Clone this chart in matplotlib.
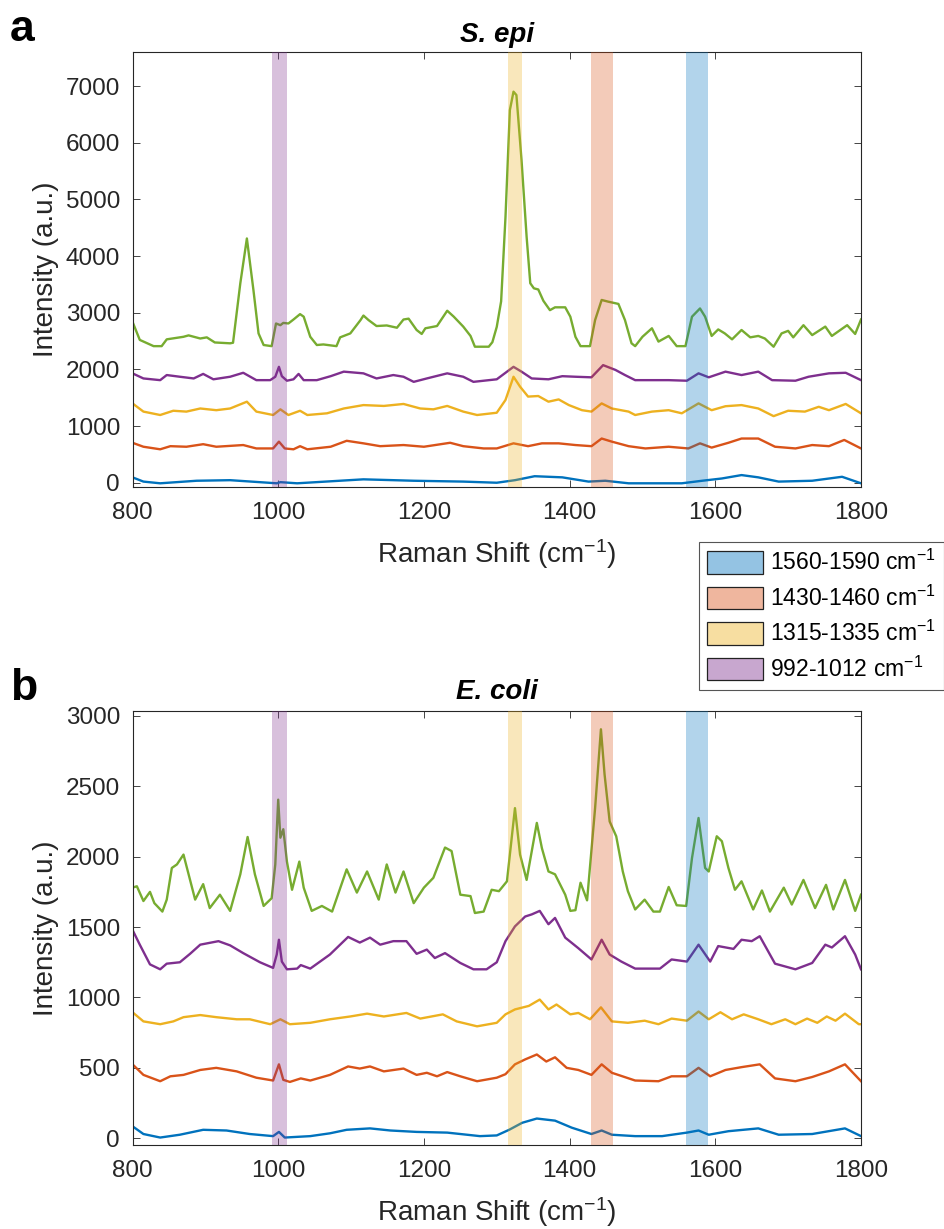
import matplotlib
matplotlib.use("Agg")
import matplotlib.pyplot as plt
from matplotlib.patches import Patch
from matplotlib.colors import to_rgb

plt.rcParams['font.family'] = ['Liberation Sans', 'DejaVu Sans']
plt.rcParams['mathtext.fontset'] = 'custom'
plt.rcParams['mathtext.rm'] = 'Liberation Sans'
plt.rcParams['mathtext.it'] = 'Liberation Sans:italic'
plt.rcParams['mathtext.bf'] = 'Liberation Sans:bold'

# ---------------- data: panel a (S. epi) ----------------
xa_green = [800, 810, 829, 840, 847, 870, 877, 893, 902, 913, 934, 938, 948, 957, 966, 973, 980, 991, 997, 1003,
            1007, 1014, 1021, 1030, 1035, 1044, 1053, 1062, 1080, 1085, 1099, 1113, 1117, 1124, 1135, 1149, 1163, 1172,
            1179, 1190, 1197, 1202, 1218, 1232, 1241, 1254, 1264, 1270, 1289, 1294, 1300, 1306, 1312, 1318, 1323, 1327,
            1334, 1341, 1346, 1351, 1357, 1364, 1373, 1380, 1394, 1401, 1408, 1415, 1428, 1435, 1444, 1453, 1467, 1476,
            1485, 1490, 1500, 1513, 1522, 1536, 1547, 1559, 1568, 1579, 1586, 1595, 1604, 1613, 1623, 1636, 1648, 1659,
            1668, 1680, 1691, 1700, 1707, 1721, 1733, 1751, 1760, 1781, 1792, 1800]
ya_green = [2840, 2520, 2410, 2410, 2530, 2575, 2600, 2545, 2565, 2475, 2460, 2470, 3520, 4310, 3400, 2635, 2430, 2410, 2810, 2780,
            2820, 2810, 2880, 2975, 2930, 2575, 2430, 2440, 2410, 2565, 2635, 2870, 2950, 2870, 2765, 2775, 2735, 2880,
            2895, 2695, 2625, 2725, 2765, 3035, 2930, 2755, 2590, 2400, 2400, 2480, 2750, 3200, 4690, 6575, 6900, 6840,
            5695, 4340, 3520, 3430, 3410, 3210, 3045, 3095, 3095, 2930, 2575, 2410, 2410, 2870, 3225, 3195, 3155, 2870,
            2460, 2410, 2575, 2725, 2490, 2590, 2410, 2410, 2930, 3075, 2930, 2590, 2705, 2635, 2530, 2695, 2565, 2590,
            2545, 2400, 2635, 2680, 2565, 2780, 2605, 2755, 2590, 2780, 2625, 2880]

xa_purple = [800, 815, 838, 847, 865, 884, 897, 911, 934, 952, 970, 989, 996, 1001, 1005, 1012, 1021, 1028, 1035, 1053,
             1072, 1090, 1117, 1135, 1158, 1172, 1186, 1204, 1232, 1254, 1268, 1300, 1312, 1323, 1334, 1348, 1371, 1390,
             1408, 1430, 1446, 1463, 1476, 1490, 1513, 1536, 1561, 1577, 1591, 1614, 1636, 1659, 1678, 1710, 1728, 1756,
             1779, 1800]
ya_purple = [1930, 1840, 1810, 1900, 1870, 1840, 1920, 1825, 1870, 1940, 1810, 1810, 1870, 2045, 1880, 1800, 1825, 1920, 1810, 1810,
             1880, 1960, 1930, 1840, 1900, 1870, 1780, 1840, 1930, 1870, 1780, 1825, 1940, 2045, 1960, 1840, 1825, 1880,
             1870, 1860, 2075, 1990, 1900, 1810, 1810, 1810, 1800, 1930, 1860, 1960, 1900, 1960, 1810, 1800, 1870, 1930,
             1940, 1810]

xa_yellow = [800, 815, 838, 856, 874, 893, 915, 934, 957, 970, 993, 1003, 1014, 1030, 1040, 1067, 1090, 1117, 1145, 1172,
             1195, 1213, 1232, 1254, 1273, 1300, 1312, 1323, 1332, 1343, 1357, 1371, 1385, 1399, 1417, 1430, 1444, 1458,
             1481, 1490, 1513, 1536, 1554, 1577, 1595, 1614, 1636, 1659, 1680, 1700, 1723, 1742, 1756, 1779, 1800]
ya_yellow = [1400, 1255, 1195, 1270, 1255, 1310, 1280, 1310, 1430, 1255, 1195, 1295, 1195, 1270, 1195, 1225, 1310, 1370, 1355, 1390,
             1310, 1295, 1355, 1255, 1195, 1235, 1460, 1870, 1695, 1520, 1530, 1430, 1470, 1370, 1280, 1255, 1400, 1310,
             1255, 1195, 1255, 1280, 1225, 1400, 1280, 1350, 1370, 1310, 1175, 1270, 1255, 1340, 1280, 1390, 1225]

xa_orange = [800, 815, 838, 852, 874, 897, 915, 952, 970, 993, 1001, 1009, 1021, 1030, 1040, 1072, 1094, 1117, 1140, 1172,
             1200, 1236, 1254, 1282, 1300, 1323, 1343, 1362, 1385, 1408, 1430, 1444, 1458, 1481, 1504, 1536, 1563, 1579,
             1595, 1618, 1636, 1659, 1682, 1710, 1733, 1756, 1777, 1800]
ya_orange = [705, 635, 590, 645, 635, 680, 635, 665, 605, 605, 725, 605, 590, 645, 590, 635, 740, 695, 645, 665,
             635, 705, 645, 605, 605, 695, 645, 695, 695, 665, 645, 780, 725, 645, 605, 635, 605, 695,
             620, 705, 780, 780, 635, 605, 665, 645, 755, 605]

xa_blue = [800, 815, 838, 888, 934, 998, 1003, 1026, 1117, 1186, 1254, 1300, 1325, 1352, 1390, 1426, 1449, 1481, 1554,
           1582, 1609, 1636, 1659, 1687, 1733, 1774, 1800]
ya_blue = [95, 20, -10, 35, 45, -10, 10, -10, 60, 35, 20, 0, 45, 115, 95, 20, 35, -10, -10,
           35, 75, 135, 95, 20, 35, 105, -10]

# ---------------- data: panel b (E. coli) ----------------
xb_green = [800, 806, 815, 824, 830, 841, 847, 854, 861, 870, 877, 886, 897, 906, 920, 934, 948, 958, 968, 980,
            991, 996, 1000, 1003, 1007, 1012, 1019, 1029, 1035, 1046, 1060, 1074, 1094, 1108, 1122, 1138, 1149, 1161,
            1172, 1186, 1200, 1213, 1229, 1238, 1250, 1264, 1270, 1282, 1293, 1303, 1314, 1325, 1332, 1341, 1355, 1362,
            1371, 1380, 1394, 1401, 1408, 1415, 1424, 1435, 1443, 1448, 1455, 1464, 1473, 1480, 1490, 1503, 1515, 1524,
            1536, 1547, 1560, 1568, 1577, 1586, 1591, 1602, 1609, 1618, 1627, 1636, 1652, 1664, 1675, 1694, 1705, 1721,
            1737, 1752, 1762, 1778, 1792, 1800]
yb_green = [1780, 1790, 1685, 1750, 1670, 1610, 1695, 1920, 1945, 2015, 1875, 1695, 1805, 1635, 1730, 1615, 1875, 2140, 1875, 1650,
            1705, 1945, 2405, 2135, 2195, 1965, 1765, 1965, 1780, 1615, 1650, 1610, 1910, 1745, 1895, 1695, 1945, 1745,
            1895, 1670, 1780, 1850, 2065, 2040, 1730, 1720, 1600, 1610, 1765, 1755, 1825, 2345, 2015, 1835, 2240, 2060,
            1895, 1875, 1730, 1615, 1620, 1815, 1690, 2345, 2905, 2585, 2250, 2145, 1895, 1755, 1625, 1695, 1610, 1610,
            1785, 1655, 1650, 1990, 2275, 1920, 1895, 2145, 2110, 1920, 1765, 1825, 1625, 1760, 1610, 1780, 1660, 1835,
            1635, 1800, 1625, 1835, 1615, 1730]

xb_purple = [800, 810, 824, 838, 847, 865, 879, 893, 918, 934, 952, 975, 993, 998, 1001, 1005, 1012, 1026, 1031, 1044,
             1071, 1096, 1112, 1126, 1140, 1158, 1176, 1190, 1204, 1215, 1229, 1250, 1268, 1286, 1300, 1312, 1325, 1339,
             1348, 1359, 1371, 1380, 1394, 1412, 1430, 1444, 1455, 1471, 1490, 1508, 1524, 1540, 1561, 1577, 1593, 1604,
             1625, 1636, 1650, 1661, 1682, 1710, 1733, 1751, 1760, 1778, 1792, 1800]
yb_purple = [1480, 1375, 1235, 1200, 1240, 1250, 1310, 1375, 1400, 1370, 1315, 1250, 1210, 1305, 1410, 1255, 1200, 1205, 1230, 1205,
             1305, 1430, 1390, 1425, 1375, 1400, 1400, 1310, 1340, 1280, 1315, 1245, 1200, 1200, 1250, 1400, 1505, 1575,
             1590, 1615, 1520, 1565, 1425, 1350, 1270, 1410, 1305, 1255, 1205, 1205, 1205, 1270, 1255, 1375, 1255, 1365,
             1345, 1410, 1400, 1435, 1240, 1200, 1245, 1375, 1355, 1435, 1305, 1200]

xb_yellow = [800, 815, 838, 856, 870, 893, 915, 943, 961, 989, 1003, 1016, 1044, 1071, 1099, 1122, 1145, 1176, 1195, 1226,
             1245, 1273, 1300, 1312, 1325, 1344, 1359, 1371, 1382, 1401, 1412, 1428, 1443, 1458, 1480, 1503, 1522, 1540,
             1561, 1577, 1591, 1607, 1623, 1639, 1659, 1677, 1696, 1710, 1726, 1740, 1753, 1765, 1778, 1797, 1800]
yb_yellow = [895, 830, 810, 830, 860, 875, 860, 845, 845, 810, 845, 810, 820, 845, 865, 885, 865, 890, 850, 880,
             830, 795, 820, 880, 915, 940, 985, 915, 950, 880, 890, 845, 930, 830, 820, 835, 810, 850,
             835, 900, 845, 895, 845, 880, 845, 810, 845, 810, 850, 820, 865, 835, 885, 810, 810]

xb_orange = [800, 815, 838, 852, 870, 893, 915, 943, 970, 993, 1001, 1007, 1016, 1031, 1044, 1071, 1096, 1112, 1126, 1145,
             1172, 1190, 1204, 1218, 1232, 1250, 1273, 1300, 1312, 1325, 1339, 1355, 1368, 1380, 1396, 1412, 1430, 1444,
             1458, 1490, 1522, 1540, 1561, 1577, 1593, 1614, 1636, 1661, 1682, 1710, 1733, 1756, 1778, 1800]
yb_orange = [525, 450, 405, 440, 450, 485, 500, 475, 430, 410, 525, 415, 400, 425, 410, 450, 510, 495, 510, 475,
             495, 450, 465, 440, 470, 440, 405, 430, 455, 525, 560, 595, 545, 575, 500, 485, 450, 525,
             465, 410, 405, 440, 440, 500, 440, 485, 505, 525, 425, 405, 435, 475, 525, 405]

xb_blue = [800, 815, 838, 865, 897, 929, 961, 993, 1001, 1009, 1044, 1071, 1094, 1126, 1154, 1190, 1232, 1277, 1300, 1317,
           1335, 1355, 1380, 1403, 1430, 1444, 1458, 1490, 1527, 1561, 1577, 1591, 1618, 1659, 1687, 1733, 1778, 1800]
yb_blue = [85, 30, 5, 25, 60, 55, 30, 15, 45, 5, 15, 35, 60, 70, 55, 45, 40, 15, 20, 60,
           110, 140, 125, 75, 30, 55, 25, 15, 15, 40, 55, 25, 50, 70, 25, 30, 70, 15]

band_ranges = [(1560, 1590), (1430, 1460), (1315, 1335), (992, 1012)]
band_labels = ['1560-1590 cm$^{-1}$', '1430-1460 cm$^{-1}$', '1315-1335 cm$^{-1}$', '992-1012 cm$^{-1}$']
titles = ['S. epi', 'E. coli']
panel_letters = ['a', 'b']
xticks = [800, 1000, 1200, 1400, 1600, 1800]
yticks_a = [0, 1000, 2000, 3000, 4000, 5000, 6000, 7000]
yticks_b = [0, 500, 1000, 1500, 2000, 2500, 3000]

# ---------------- style ----------------
c_blue = '#0072BD'
c_orange = '#D95319'
c_yellow = '#EDB120'
c_purple = '#7E2F8E'
c_green = '#77AC30'
band_colors = [c_blue, c_orange, c_yellow, c_purple]
axc = '#262626'

W, H = 944, 1229
fig = plt.figure(figsize=(W / 100, H / 100), dpi=100)
ax_a = fig.add_axes([132.5 / W, 1 - 486.7 / H, 728.5 / W, 434.7 / H])
ax_b = fig.add_axes([132.5 / W, 1 - 1145 / H, 728.5 / W, 434.3 / H])

series_a = [(xa_blue, ya_blue, c_blue), (xa_orange, ya_orange, c_orange), (xa_yellow, ya_yellow, c_yellow),
            (xa_purple, ya_purple, c_purple), (xa_green, ya_green, c_green)]
series_b = [(xb_blue, yb_blue, c_blue), (xb_orange, yb_orange, c_orange), (xb_yellow, yb_yellow, c_yellow),
            (xb_purple, yb_purple, c_purple), (xb_green, yb_green, c_green)]

for ax, series, title, yt, ylim, tpad in [(ax_a, series_a, titles[0], yticks_a, (-70, 7600), 7.5),
                                           (ax_b, series_b, titles[1], yticks_b, (-48, 3037), 8.5)]:
    for xs, ys, col in series:
        ax.plot(xs, ys, color=col, lw=1.7, zorder=2, solid_joinstyle='round')
    for (lo, hi), col in zip(band_ranges, band_colors):
        ax.axvspan(lo, hi, color=col, alpha=0.3, lw=0, zorder=3)
    ax.set_xlim(800, 1800)
    ax.set_ylim(*ylim)
    ax.set_xticks(xticks)
    ax.set_yticks(yt)
    ax.tick_params(direction='in', length=5, width=0.6, top=True, right=True, colors=axc,
                   labelsize=17.5, labelcolor=axc)
    ax.tick_params(axis='x', pad=11)
    ax.tick_params(axis='y', pad=9)
    for s in ax.spines.values():
        s.set_color(axc)
        s.set_linewidth(0.8)
    ax.set_xlabel('Raman Shift (cm$^{-1}$)', fontsize=20, color=axc, labelpad=9.5)
    ax.set_ylabel('Intensity (a.u.)', fontsize=20, color=axc, labelpad=5)
    ax.set_title(title, fontsize=20, fontweight='bold', fontstyle='italic', pad=tpad)

fig.text(10 / W, 1 - 41 / H, panel_letters[0], fontsize=32, fontweight='bold', va='baseline', ha='left')
fig.text(10 / W, 1 - 700 / H, panel_letters[1], fontsize=32, fontweight='bold', va='baseline', ha='left')

handles = []
for col in band_colors:
    r, g, b = to_rgb(col)
    handles.append(Patch(facecolor=(r, g, b, 0.42), edgecolor='#222222', linewidth=0.9))
leg = fig.legend(handles, band_labels, loc='upper left', bbox_to_anchor=(699 / W, 1 - 542 / H),
                 fontsize=16.5, frameon=True, fancybox=False, edgecolor='#555555', framealpha=1,
                 borderpad=0.35, handlelength=2.45, handleheight=1.15, labelspacing=0.45,
                 handletextpad=0.3, borderaxespad=0)
leg.get_frame().set_linewidth(0.8)

fig.savefig('out.png', dpi=100)
